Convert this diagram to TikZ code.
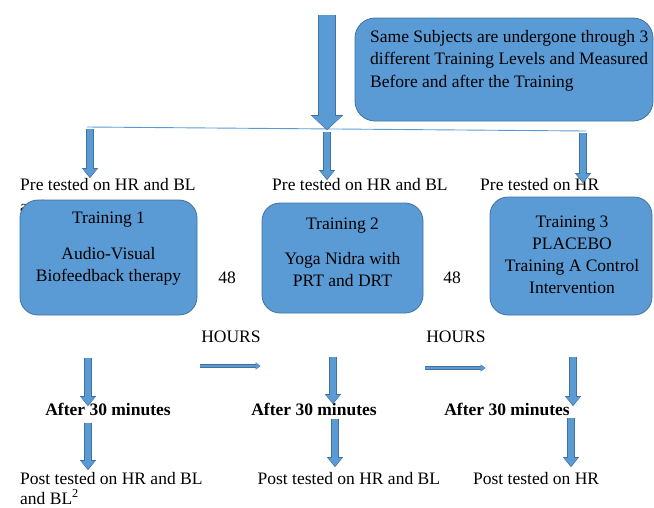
\documentclass[tikz,border=0pt]{standalone}
\usepackage{fontspec}
\setmainfont{Liberation Serif}
\usetikzlibrary{arrows.meta}

\definecolor{boxblue}{HTML}{5B9BD5}
\definecolor{edgeblue}{HTML}{41719C}

\tikzset{
  tbox/.style={draw=edgeblue, fill=boxblue, rounded corners=18pt, line width=0.8pt, inner sep=0pt},
  lbl/.style={inner sep=0pt, font=\fontsize{17.5}{22}\selectfont},
  blk/.style={draw=boxblue, line width=6.5pt, -{Triangle[width=13pt,length=8pt]},
    preaction={draw=edgeblue, line width=8pt, shorten >=-1.2pt, -{Triangle[width=15.5pt,length=10pt]}}},
  bigblk/.style={draw=boxblue, line width=16pt, -{Triangle[width=29pt,length=13pt]},
    preaction={draw=edgeblue, line width=17.5pt, shorten >=-1.2pt, -{Triangle[width=31.5pt,length=15pt]}}},
  thinarr/.style={draw=boxblue, line width=2.6pt, -{Triangle[width=6pt,length=4pt]},
    preaction={draw=edgeblue, line width=3.4pt, shorten >=-0.6pt, -{Triangle[width=7pt,length=5pt]}}}
}

\begin{document}
\begin{tikzpicture}[x=1pt, y=-1pt]
  \useasboundingbox (0,0) rectangle (654,507);

  % Hinweis oben rechts
  \node[tbox, rounded corners=20pt, minimum width=298pt, minimum height=103pt] (note) at (504,69.5) {};
  \node[lbl, anchor=west, align=left, font=\fontsize{17.5}{22.5}\selectfont] (notetext) at (370,60.5)
    {Same Subjects are undergone through 3\\different Training Levels and Measured\\Before and after the Training};

  % Verteilung
  \coordinate (top) at (327,15);
  \coordinate (lineL) at (87,127);
  \coordinate (lineM) at (327,129);
  \coordinate (lineR) at (586,131);
  \draw[boxblue, line width=0.9pt] (lineL) -- (lineR);
  \draw[bigblk] (top) -- (lineM);

  % Vortest
  \node[lbl, anchor=west] (pre1b) at (20,207) {and BL};
  \node[lbl, anchor=west] (pre1) at (20,185) {Pre tested on HR and BL};
  \node[lbl, anchor=west] (pre2) at (272,185) {Pre tested on HR and BL};
  \node[lbl, anchor=west] (pre3) at (480,185) {Pre tested on HR};

  % Trainingsboxen
  \node[tbox, minimum width=177pt, minimum height=115pt] (box1) at (108.5,257.5) {};
  \node[tbox, minimum width=161pt, minimum height=110pt] (box2) at (342.5,258) {};
  \node[tbox, minimum width=162pt, minimum height=118pt] (box3) at (571,256) {};
  \node[lbl, align=center] (t1) at (108.5,249) {Training 1\\[14pt]Audio-Visual\\Biofeedback therapy};
  \node[lbl, align=center] (t2) at (342.5,252) {Training 2\\[13pt]Yoga Nidra with\\PRT and DRT};
  \node[lbl, align=center] (t3) at (572,255) {Training 3\\PLACEBO\\Training A Control\\Intervention};

  % Pausen
  \node[lbl] (gap1) at (227,278) {48};
  \node[lbl] (gap2) at (452,278) {48};
  \node[lbl] (hrs1) at (231,337) {HOURS};
  \node[lbl] (hrs2) at (456,337) {HOURS};
  \coordinate (h1a) at (200,366);
  \coordinate (h1b) at (260,366);
  \coordinate (h2a) at (425,368);
  \coordinate (h2b) at (485,368);
  \draw[thinarr] (h1a) -- (h1b);
  \draw[thinarr] (h2a) -- (h2b);

  % Nach dem Training
  \node[lbl, font=\fontsize{17.5}{22}\selectfont\bfseries] (after1) at (108,409) {After 30 minutes};
  \node[lbl, font=\fontsize{17.5}{22}\selectfont\bfseries] (after2) at (314,409) {After 30 minutes};
  \node[lbl, font=\fontsize{17.5}{22}\selectfont\bfseries] (after3) at (507,409) {After 30 minutes};

  % Nachtest
  \node[lbl, anchor=west] (post1) at (20,479) {Post tested on HR and BL};
  \node[lbl, anchor=west] (post1b) at (20,497) {and BL\textsuperscript{2}};
  \node[lbl, anchor=west] (post2) at (257.5,479) {Post tested on HR and BL};
  \node[lbl, anchor=west] (post3) at (473,479) {Post tested on HR};

  % Blockpfeile
  \foreach \n/\x/\ya/\yb in {p1/90/129/177, p2/327/132/179, p3/583/133/182,
      a1/88/358/405, a2/333/357/403, a3/573/357/405,
      b1/88/423/469, b2/335/419/466, b3/571/418/466} {
    \coordinate (s\n) at (\x,\ya);
    \coordinate (e\n) at (\x,\yb);
    \draw[blk] (s\n) -- (e\n);
  }

\end{tikzpicture}
\end{document}
